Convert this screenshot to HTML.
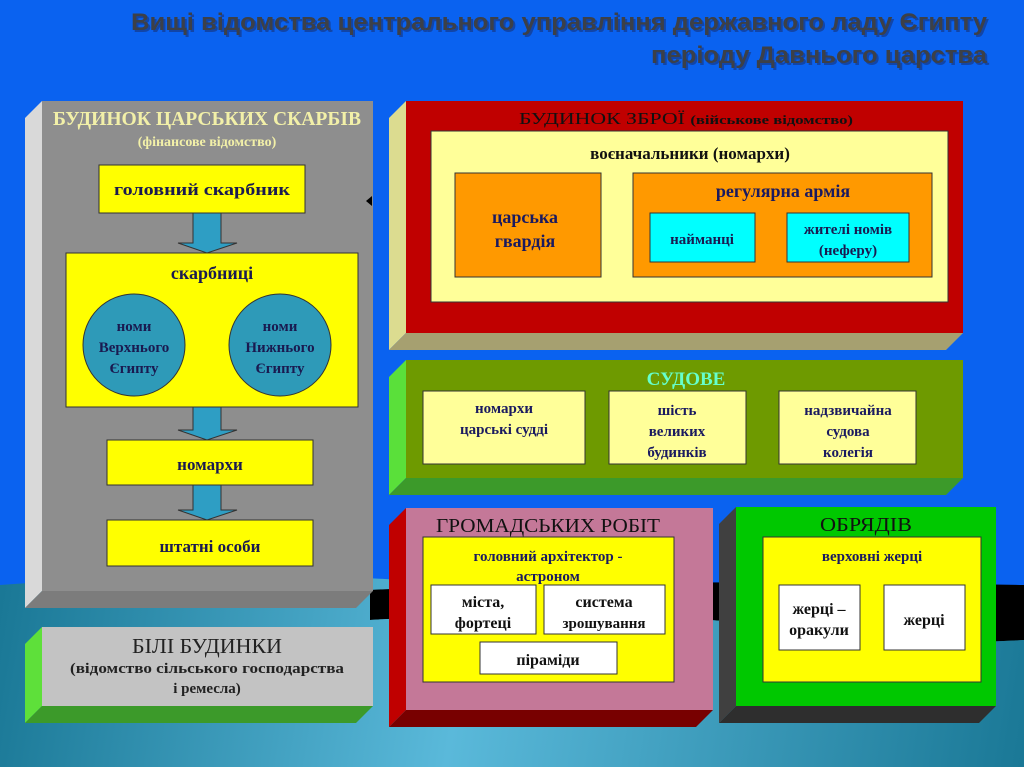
<!DOCTYPE html>
<html><head><meta charset="utf-8"><style>html,body{margin:0;padding:0;background:#0a62f0;}svg{display:block;font-family:"Liberation Serif","Noto Serif CJK SC",serif;}</style></head><body>
<svg width="1024" height="767" viewBox="0 0 1024 767" xmlns="http://www.w3.org/2000/svg">
<defs>
<linearGradient id="sea" gradientUnits="userSpaceOnUse" x1="0" y1="600" x2="1024" y2="767">
<stop offset="0" stop-color="#1a7896"/><stop offset="0.45" stop-color="#5ab9da"/><stop offset="1" stop-color="#1a7896"/></linearGradient>
</defs>
<rect width="1024" height="767" fill="#0a62f0"/>
<path d="M0 585 Q300 562 520 592 Q800 625 1024 615 L1024 767 L0 767Z" fill="url(#sea)"/>
<path d="M370 590 Q600 578 1024 585 L1024 640 Q900 648 800 628 Q600 606 370 620Z" fill="#000"/>
<path d="M370 620 Q600 606 800 628 Q900 648 1024 640 L1024 767 L370 767Z" fill="url(#sea)"/>
<g font-family="'Liberation Sans',sans-serif" font-weight="bold" font-size="24">
<text x="989" y="32" text-anchor="end" textLength="856" lengthAdjust="spacingAndGlyphs" fill="#1a2a60" opacity="0.5">Вищі відомства центрального управління державного ладу Єгипту</text>
<text x="987" y="30" text-anchor="end" textLength="856" lengthAdjust="spacingAndGlyphs" fill="#3c4048">Вищі відомства центрального управління державного ладу Єгипту</text>
<text x="989" y="65" text-anchor="end" textLength="336" lengthAdjust="spacingAndGlyphs" fill="#1a2a60" opacity="0.5">періоду Давнього царства</text>
<text x="987" y="63" text-anchor="end" textLength="336" lengthAdjust="spacingAndGlyphs" fill="#3c4048">періоду Давнього царства</text>
</g>
<polygon points="25,118 42,101 42,591 25,608" fill="#d9d9d9"/>
<polygon points="42,591 373,591 356,608 25,608" fill="#7c7c7c"/>
<rect x="42" y="101" width="331" height="490" fill="#8e8e8e"/>
<text x="207" y="125" text-anchor="middle" font-size="20" font-weight="bold" fill="#f2f0a8" textLength="308" lengthAdjust="spacingAndGlyphs">БУДИНОК ЦАРСЬКИХ СКАРБІВ</text>
<text x="207" y="146" text-anchor="middle" font-size="14" font-weight="bold" fill="#f2f0a8">(фінансове відомство)</text>
<g stroke="#333" stroke-width="1">
<rect x="99" y="165" width="206" height="48" fill="#ffff00"/>
<rect x="66" y="253" width="292" height="154" fill="#ffff00"/>
<rect x="107" y="440" width="206" height="45" fill="#ffff00"/>
<rect x="107" y="520" width="206" height="46" fill="#ffff00"/>
<circle cx="134" cy="345" r="51" fill="#2e9ab8"/>
<circle cx="280" cy="345" r="51" fill="#2e9ab8"/>
<polygon points="193,213 221,213 221,243 237,243 207,253 178,243 193,243" fill="#2e9ec4"/>
<polygon points="193,407 221,407 221,430 237,430 207,440 178,430 193,430" fill="#2e9ec4"/>
<polygon points="193,485 221,485 221,510 237,510 207,520 178,510 193,510" fill="#2e9ec4"/>
</g>
<g font-weight="bold" fill="#1a1a50" text-anchor="middle">
<text x="202" y="195" font-size="17" textLength="176" lengthAdjust="spacingAndGlyphs">головний скарбник</text>
<text x="212" y="279" font-size="18">скарбниці</text>
<text x="134" y="331" font-size="15">номи</text>
<text x="134" y="352" font-size="15">Верхнього</text>
<text x="134" y="373" font-size="15">Єгипту</text>
<text x="280" y="331" font-size="15">номи</text>
<text x="280" y="352" font-size="15">Нижнього</text>
<text x="280" y="373" font-size="15">Єгипту</text>
<text x="210" y="470" font-size="17">номархи</text>
<text x="210" y="552" font-size="17">штатні особи</text>
</g>
<polygon points="366,201 372,196 372,206" fill="#000"/>
<polygon points="25,644 42,627 42,706 25,723" fill="#5ee03a"/>
<polygon points="42,706 373,706 356,723 25,723" fill="#3c9a2a"/>
<rect x="42" y="627" width="331" height="79" fill="#c3c3c3"/>
<text x="207" y="653" text-anchor="middle" font-size="21" fill="#222" textLength="150" lengthAdjust="spacingAndGlyphs">БІЛІ БУДИНКИ</text>
<text x="207" y="673" text-anchor="middle" font-size="15" font-weight="bold" fill="#222" textLength="274" lengthAdjust="spacingAndGlyphs">(відомство сільського господарства</text>
<text x="207" y="693" text-anchor="middle" font-size="15" font-weight="bold" fill="#222">і ремесла)</text>
<polygon points="389,118 406,101 406,333 389,350" fill="#dcdc90"/>
<polygon points="406,333 963,333 946,350 389,350" fill="#a6a070"/>
<rect x="406" y="101" width="557" height="232" fill="#c00000"/>
<text x="686" y="124" text-anchor="middle" font-size="17" fill="#111" textLength="334" lengthAdjust="spacingAndGlyphs">БУДИНОК ЗБРОЇ <tspan font-size="13" font-weight="bold">(військове відомство)</tspan></text>
<g stroke="#333" stroke-width="1">
<rect x="431" y="131" width="517" height="171" fill="#ffff99"/>
<rect x="455" y="173" width="146" height="104" fill="#ff9900"/>
<rect x="633" y="173" width="299" height="104" fill="#ff9900"/>
<rect x="650" y="213" width="105" height="49" fill="#00ffff"/>
<rect x="787" y="213" width="122" height="49" fill="#00ffff"/>
</g>
<g font-weight="bold" text-anchor="middle">
<text x="690" y="159" font-size="17" fill="#111">воєначальники (номархи)</text>
<text x="525" y="223" font-size="18" fill="#1a1a60">царська</text>
<text x="525" y="247" font-size="18" fill="#1a1a60">гвардія</text>
<text x="783" y="197" font-size="18" fill="#1a1a60">регулярна армія</text>
<text x="702" y="244" font-size="15" fill="#1a1a50">найманці</text>
<text x="848" y="234" font-size="15" fill="#1a1a50">жителі номів</text>
<text x="848" y="255" font-size="15" fill="#1a1a50">(неферу)</text>
</g>
<polygon points="389,377 406,360 406,478 389,495" fill="#5ae03a"/>
<polygon points="406,478 963,478 946,495 389,495" fill="#3c9a2a"/>
<rect x="406" y="360" width="557" height="118" fill="#6e9a00"/>
<text x="686" y="385" text-anchor="middle" font-size="19" font-weight="bold" fill="#66ffcc">СУДОВЕ</text>
<g stroke="#333" stroke-width="1" fill="#ffff99">
<rect x="423" y="391" width="162" height="73"/>
<rect x="609" y="391" width="137" height="73"/>
<rect x="779" y="391" width="137" height="73"/>
</g>
<g font-weight="bold" text-anchor="middle" font-size="15" fill="#1a1a60">
<text x="504" y="413">номархи</text><text x="504" y="434">царські судді</text>
<text x="677" y="415">шість</text><text x="677" y="436">великих</text><text x="677" y="457">будинків</text>
<text x="848" y="415">надзвичайна</text><text x="848" y="436">судова</text><text x="848" y="457">колегія</text>
</g>
<polygon points="389,525 406,508 406,710 389,727" fill="#c00000"/>
<polygon points="406,710 713,710 696,727 389,727" fill="#780000"/>
<rect x="406" y="508" width="307" height="202" fill="#c47898"/>
<text x="548" y="532" text-anchor="middle" font-size="20" fill="#111" textLength="224" lengthAdjust="spacingAndGlyphs">ГРОМАДСЬКИХ РОБІТ</text>
<g stroke="#333" stroke-width="1">
<rect x="423" y="537" width="251" height="145" fill="#ffff00"/>
<rect x="431" y="585" width="105" height="49" fill="#fff"/>
<rect x="544" y="585" width="121" height="49" fill="#fff"/>
<rect x="480" y="642" width="137" height="32" fill="#fff"/>
</g>
<g font-weight="bold" text-anchor="middle">
<text x="548" y="561" font-size="15" fill="#1a1a60">головний архітектор -</text>
<text x="548" y="581" font-size="15" fill="#1a1a60">астроном</text>
<text x="483" y="607" font-size="16" fill="#111">міста,</text>
<text x="483" y="628" font-size="16" fill="#111">фортеці</text>
<text x="604" y="607" font-size="16" fill="#111">система</text>
<text x="604" y="628" font-size="15" fill="#111">зрошування</text>
<text x="548" y="665" font-size="16" fill="#111">піраміди</text>
</g>
<polygon points="719,524 736,507 736,706 719,723" fill="#404040"/>
<polygon points="736,706 996,706 979,723 719,723" fill="#2e2e2e"/>
<rect x="736" y="507" width="260" height="199" fill="#00c800"/>
<text x="866" y="531" text-anchor="middle" font-size="20" fill="#111" textLength="92" lengthAdjust="spacingAndGlyphs">ОБРЯДІВ</text>
<g stroke="#333" stroke-width="1">
<rect x="763" y="537" width="218" height="145" fill="#ffff00"/>
<rect x="779" y="585" width="81" height="65" fill="#fff"/>
<rect x="884" y="585" width="81" height="65" fill="#fff"/>
</g>
<g font-weight="bold" text-anchor="middle">
<text x="872" y="561" font-size="15" fill="#1a1a60">верховні жерці</text>
<text x="819" y="614" font-size="16" fill="#111">жерці –</text>
<text x="819" y="635" font-size="16" fill="#111">оракули</text>
<text x="924" y="625" font-size="16" fill="#111">жерці</text>
</g>
</svg>
</body></html>
